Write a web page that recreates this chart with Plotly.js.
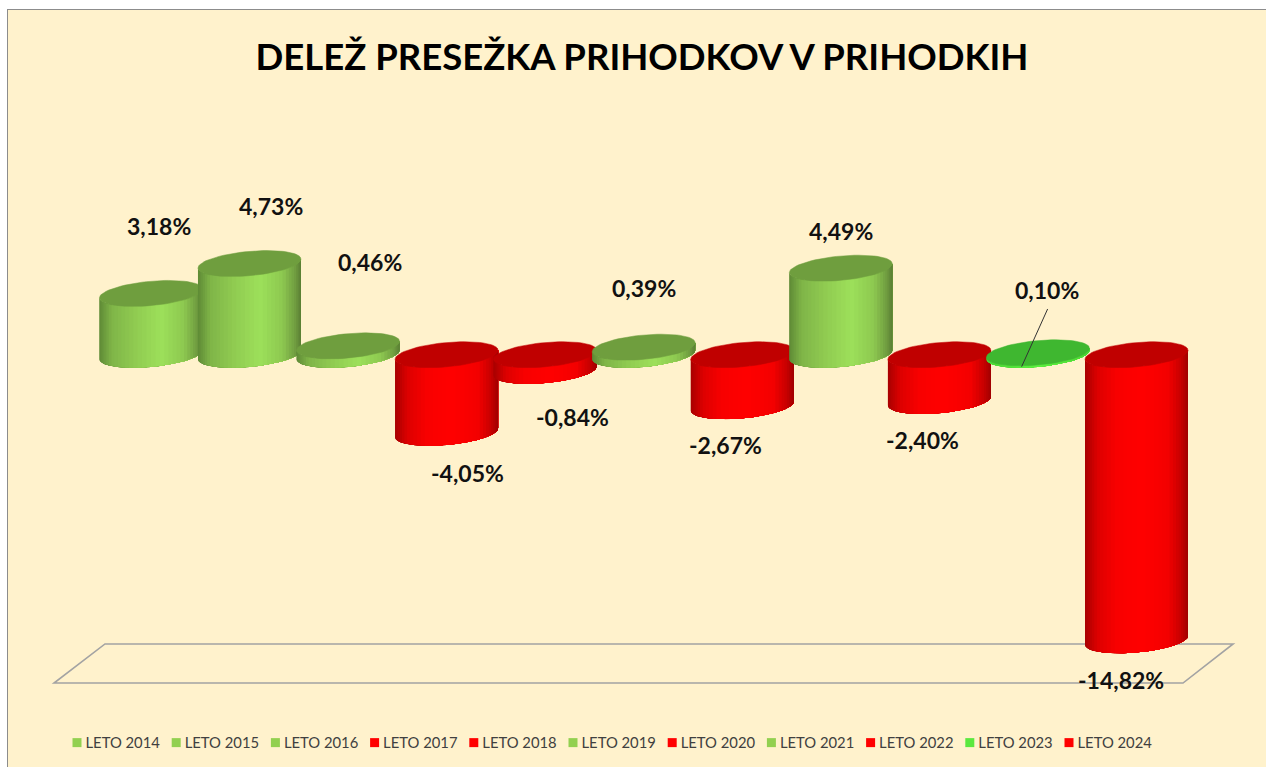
<!DOCTYPE html>
<html><head><meta charset="utf-8">
<script src="https://cdn.plot.ly/plotly-3.0.1.min.js"></script>
<style>html,body{margin:0;padding:0;background:#fff;overflow:hidden}</style>
</head><body><div id="chart" style="width:1266px;height:767px"></div>
<script>
const years = ["LETO 2014","LETO 2015","LETO 2016","LETO 2017","LETO 2018","LETO 2019","LETO 2020","LETO 2021","LETO 2022","LETO 2023","LETO 2024"];
const values = [3.18,4.73,0.46,-4.05,-0.84,0.39,-2.67,4.49,-2.40,0.10,-14.82];
const legendColors = ["#92D050","#92D050","#92D050","#FF0000","#FF0000","#92D050","#FF0000","#92D050","#FF0000","#5BE83F","#FF0000"];
const labelDx = [8.1,21.5,22,21.4,26.9,0.3,-16.3,0.2,-16.4,9,-15.5];
const labelDy = [-67,-57.6,-83.8,40.3,46,-59,38.8,-37,39,-63,39.7];

const PAL = {
  "#92D050": {cap:"#6F9E3E", stops:[[0,"#5F8A36"],[0.12,"#7FB548"],[0.35,"#90CB51"],[0.6,"#9DE05A"],[0.82,"#8DC850"],[0.94,"#719F41"],[1,"#5A7F34"]]},
  "#FF0000": {cap:"#C00000", stops:[[0,"#A80000"],[0.12,"#DC0000"],[0.3,"#F80000"],[0.55,"#FF0000"],[0.8,"#F40000"],[0.93,"#C80000"],[1,"#A00000"]]},
  "#5BE83F": {cap:"#3FB730", stops:[[0,"#4CD636"],[0.5,"#5DF03F"],[1,"#4CD636"]]}
};
const AX = 0.5225, TILT = 0.2335, CY = 0.633, STRIPS = 36;

function hex(c){return [1,3,5].map(i=>parseInt(c.substr(i,2),16));}
function shade(stops,u){
  for(let i=1;i<stops.length;i++){
    if(u<=stops[i][0]){
      const f=(u-stops[i-1][0])/(stops[i][0]-stops[i-1][0]);
      const a=hex(stops[i-1][1]),b=hex(stops[i][1]);
      return "rgb("+a.map((v,k)=>Math.round(v+(b[k]-v)*f)).join(",")+")";
    }
  }
  return stops[stops.length-1][1];
}
const ex = t => AX*Math.cos(t);
const ey = t => TILT*Math.cos(t)+CY*Math.sin(t);

const traces = [];
// legend-carrying traces, one per year, sitting under their cylinder
years.forEach((name,i)=>traces.push({type:"scatter",mode:"markers",name,x:[i],y:[values[i]],
  marker:{symbol:"square",size:9,color:legendColors[i]},hoverinfo:"skip"}));

values.forEach((v,i)=>{
  const pal = PAL[legendColors[i]];
  const top = Math.max(v,0), bot = Math.min(v,0);
  // painted left to right: each strip runs to the right edge, so no seams show
  for(let s=0;s<STRIPS;s++){
    const xs=[],ys=[];
    for(let k=s;k<=STRIPS;k++){const t=Math.PI+Math.PI*k/STRIPS;xs.push(i+ex(t));ys.push(top+ey(t));}
    for(let k=STRIPS;k>=s;k--){const t=Math.PI+Math.PI*k/STRIPS;xs.push(i+ex(t));ys.push(bot+ey(t));}
    xs.push(xs[0]);ys.push(ys[0]);
    const tm=Math.PI+Math.PI*(s+0.5)/STRIPS;
    traces.push({type:"scatter",mode:"lines",showlegend:false,hoverinfo:"skip",fill:"toself",fillcolor:shade(pal.stops,(Math.cos(tm)+1)/2),
      line:{width:0},x:xs,y:ys});
  }
  const cx=[],cy=[];
  for(let k=0;k<=72;k++){const t=2*Math.PI*k/72;cx.push(i+ex(t));cy.push(top+ey(t));}
  traces.push({type:"scatter",mode:"lines",showlegend:false,hoverinfo:"skip",fill:"toself",fillcolor:pal.cap,
    line:{color:pal.cap,width:0.5},x:cx,y:cy});
});

const labels = values.map((v,i)=>({x:i,y:v,xref:"x",yref:"y",showarrow:false,
  text:v.toFixed(2).replace(".",",")+"%",xshift:labelDx[i],yshift:-labelDy[i],
  xanchor:"center",yanchor:"middle",font:{family:"Lato",size:23,color:"#111111",weight:700}}));

const layout = {
  width:1266,height:767,paper_bgcolor:"#FFFFFF",plot_bgcolor:"#FFF2CC",
  margin:{l:8,r:0,t:10,b:0,pad:0},showlegend:true,
  title:{text:"DELEŽ PRESEŽKA PRIHODKOV V PRIHODKIH",xref:"container",yref:"container",x:642/1266,y:1-57/767,xanchor:"center",yanchor:"middle",
    font:{family:"Lato",size:36.5,color:"#000000",weight:700}},
  xaxis:{range:[-1.45,11.314],side:"top",showgrid:false,zeroline:false,showticklabels:false,ticks:"",showline:true,linecolor:"#8C8C8C",linewidth:1,fixedrange:true},
  yaxis:{range:[-21.396,17.888],showgrid:false,zeroline:false,showticklabels:false,ticks:"",showline:true,linecolor:"#8C8C8C",linewidth:1,fixedrange:true},
  legend:{orientation:"h",x:37.5/1258,xanchor:"left",y:24/757,yanchor:"middle",bgcolor:"rgba(0,0,0,0)",
    entrywidthmode:"pixels",entrywidth:54.2,traceorder:"normal",itemclick:false,itemdoubleclick:false,
    font:{family:"Lato",size:14.8,color:"#404040"}},
  shapes:[
    {type:"path",layer:"below",xref:"x",yref:"y",path:"M -0.983 -17.04 L 10.472 -17.04 L 10.98 -15.01 L -0.466 -15.01 Z",line:{color:"#A3A3A3",width:1.6},fillcolor:"rgba(0,0,0,0)"},
    {type:"line",layer:"above",xref:"x",yref:"y",xsizemode:"pixel",ysizemode:"pixel",xanchor:9,yanchor:values[9],x0:9.7,x1:-16.3,y0:43.8,y1:-13.9,line:{color:"#333333",width:1}}
  ],
  annotations:labels
};
Plotly.newPlot("chart",traces,layout,{displayModeBar:false}).then(()=>{
  document.querySelectorAll(".legend .legendsymbols").forEach(g=>g.setAttribute("transform","translate(11.5,0)"));
  document.querySelectorAll(".legend, .legend .scrollbox").forEach(g=>g.removeAttribute("clip-path"));
  document.querySelectorAll(".legend .scrollbox").forEach(g=>g.style.clipPath="none");
});
</script></body></html>
